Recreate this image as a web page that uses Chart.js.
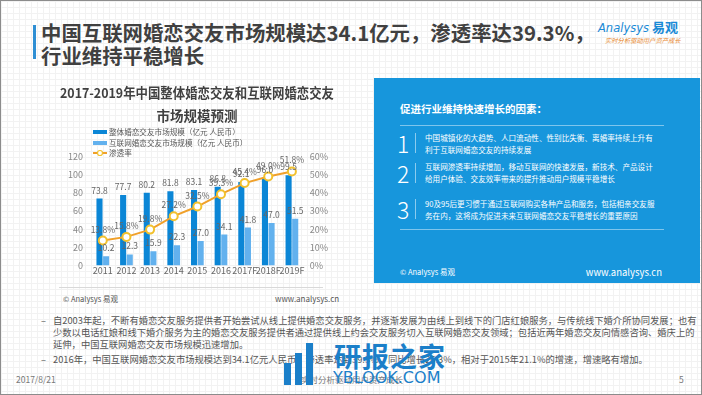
<!DOCTYPE html>
<html>
<head>
<meta charset="utf-8">
<script src="https://cdn.jsdelivr.net/npm/chart.js@4"></script>
<style>
body { margin: 0; width: 702px; height: 395px; overflow: hidden; font-family: "Noto Sans CJK SC", "Noto Sans", sans-serif; }
#slide {
    position: relative; width: 700px; height: 393px; border: 1px solid #8c8c8c;
    background-color: #fff;
    background-image: linear-gradient(#f2f2f2 1px, transparent 1px), linear-gradient(90deg, #f2f2f2 1px, transparent 1px);
    background-size: 6px 6px;
}
.abs { position: absolute; white-space: nowrap; }
#title-bar { left: 32px; top: 24px; width: 3px; height: 34px; background: #2f8fd4; }
#title { left: 40px; top: 20px; font-size: 20.4px; font-weight: bold; color: #404040; line-height: 23px; }
#logo { left: 597px; top: 16px; color: #1a8ad6; font-size: 13px; }
#logo i { font-family: "DejaVu Sans", sans-serif; font-size: 11.5px; }
#logo b { margin-left: 3px; }
#slogan { left: 604px; top: 35px; color: #e8862a; font-size: 6.3px; font-style: italic; }
#chart-box { position: absolute; left: 40px; top: 78px; width: 315px; height: 200px; }
#src-line { left: 58px; top: 286px; width: 264px; height: 1px; background: #d9d9d9; }
.src { font-size: 7.5px; color: #555; }
#panel { left: 373px; top: 77px; width: 326px; height: 205px; background: #1796dc; color: #fff; }
#panel .head { left: 26px; top: 23px; font-size: 10.5px; font-weight: bold; }
#panel .sep { left: 26px; width: 264px; height: 1px; background: rgba(255,255,255,0.45); }
#panel .num { left: 23px; font-size: 23px; font-weight: 300; line-height: 26px; }
#panel .vl { left: 41px; width: 1px; height: 20px; background: rgba(255,255,255,0.5); }
#panel .txt { left: 51px; font-size: 7.6px; line-height: 11.5px; }
#notes { left: 40px; top: 313px; font-size: 9.3px; color: #555; line-height: 12px; }
#notes .d { display: inline-block; width: 12px; }
#notes .ind { display: inline-block; width: 12px; }
.foot { font-size: 8.5px; color: #777; top: 372px; }
#wm1 { left: 333px; top: 335px; font-size: 27px; font-weight: bold; color: #1b7fc9; letter-spacing: 1px; }
#wm2 { left: 332px; top: 367px; font-size: 16px; color: #1b7fc9; font-family: "DejaVu Sans", sans-serif; }
.wb { position: absolute; background: #1b7fc9; }
</style>
</head>
<body>
<div id="slide">
    <div class="abs" id="title-bar"></div>
    <div class="abs" id="title">中国互联网婚恋交友市场规模达34.1亿元，渗透率达39.3%，<br>行业维持平稳增长</div>
    <div class="abs" id="logo"><i>Analysys</i><b>易观</b></div>
    <div class="abs" id="slogan">实时分析驱动用户资产成长</div>

    <div id="chart-box"><canvas id="market-chart"></canvas></div>
    <div class="abs" id="src-line"></div>
    <div class="abs src" style="left:62px; top:292px;">© Analysys 易观</div>
    <div class="abs src" style="left:274px; top:292px; font-size:8px;">www.analysys.cn</div>

    <div class="abs" id="panel">
        <div class="abs head">促进行业维持快速增长的因素：</div>
        <div class="abs sep" style="top:47px;"></div>
        <div class="abs num" style="top:52px;">1</div>
        <div class="abs vl" style="top:55px;"></div>
        <div class="abs txt" style="top:54px;">中国城镇化的大趋势、人口流动性、性别比失衡、离婚率持续上升有<br>利于互联网婚恋交友的持续发展</div>
        <div class="abs num" style="top:82px;">2</div>
        <div class="abs vl" style="top:85px;"></div>
        <div class="abs txt" style="top:83px;">互联网渗透率持续增加，移动互联网的快速发展，新技术、产品设计<br>给用户体验、交友效率带来的提升推动用户规模平稳增长</div>
        <div class="abs num" style="top:118px;">3</div>
        <div class="abs vl" style="top:121px;"></div>
        <div class="abs txt" style="top:120px;">90及95后更习惯于通过互联网购买各种产品和服务，包括相亲交友服<br>务在内，这将成为促进未来互联网婚恋交友平稳增长的重要原因</div>
        <div class="abs sep" style="top:151px;"></div>
        <div class="abs" style="left:26px; top:188px; font-size:7.5px;">© Analysys 易观</div>
        <div class="abs" style="right:38px; top:187px; font-size:9.5px;">www.analysys.cn</div>
    </div>

    <div class="abs" id="notes">
        <span class="d">–</span>自2003年起，不断有婚恋交友服务提供者开始尝试从线上提供婚恋交友服务，并逐渐发展为由线上到线下的门店红娘服务，与传统线下婚介所协同发展；也有<br>
        <span class="ind"></span>少数以电话红娘和线下婚介服务为主的婚恋交友服务提供者通过提供线上约会交友服务切入互联网婚恋交友领域；包括近两年婚恋交友向情感咨询、婚庆上的<br>
        <span class="ind"></span>延伸，中国互联网婚恋交友市场规模迅速增加。<br>
        <div style="height:3px;"></div>
        <span class="d">–</span>2016年，中国互联网婚恋交友市场规模达到34.1亿元人民币，渗透率达到39.3%，同比增长26.3%，相对于2015年21.1%的增速，增速略有增加。
    </div>

    <div class="abs foot" style="left:15px;">2017/8/21</div>
    <div class="abs foot" style="left:300px;">实时分析驱动用户资产成长</div>
    <div class="abs foot" style="left:678px;">5</div>

    <div class="wb" style="left:283px; top:362px; width:7px; height:22px;"></div>
    <div class="wb" style="left:294px; top:352px; width:7px; height:32px;"></div>
    <div class="wb" style="left:305px; top:342px; width:7px; height:42px;"></div>
    <div class="abs" id="wm1">研报之家</div>
    <div class="abs" id="wm2">YBLOOK.COM</div>
</div>

<script>
// 数据
const years = ['2011', '2012', '2013', '2014', '2015', '2016', '2017F', '2018F', '2019F'];
const totalMarket = [73.8, 77.7, 80.2, 81.8, 83.1, 86.8, 92.1, 96.0, 99.5];     // 整体婚恋交友市场规模
const onlineMarket = [10.2, 12.3, 15.9, 22.3, 27.0, 34.1, 41.8, 47.0, 51.5];    // 互联网婚恋交友市场规模
const penetration = [13.8, 15.8, 19.8, 27.2, 32.5, 39.3, 45.4, 49.0, 51.8];     // 渗透率 %
const leftTicks = [0, 20, 40, 60, 80, 100, 120];
const rightTicks = [0, 10, 20, 30, 40, 50, 60];

const fontFamily = '"Noto Sans CJK SC", "Noto Sans", sans-serif';
const colorTotal = '#0b86d6';
const colorOnline = '#62b1ee';
const colorLine = '#f0a02a';

/**
 * 在柱子和点上方写数值。
 */
const valueLabels = {
    id: 'valueLabels',
    afterDatasetsDraw(chart) {
        const ctx = chart.ctx;
        ctx.save();
        ctx.font = `8.5px ${fontFamily}`;
        ctx.fillStyle = '#666';
        ctx.textAlign = 'center';
        ctx.textBaseline = 'bottom';
        chart.data.datasets.forEach((ds, i) => {
            const meta = chart.getDatasetMeta(i);
            meta.data.forEach((el, j) => {
                const isLine = ds.type === 'line';
                const text = isLine ? ds.data[j].toFixed(1) + '%' : ds.data[j].toFixed(1);
                ctx.fillText(text, el.x, el.y - (isLine ? 7 : 4));
            });
        });
        ctx.restore();
    }
};

/**
 * 竖排图例（Chart.js 自带图例只会横排）。
 */
const stackedLegend = {
    id: 'stackedLegend',
    afterDraw(chart) {
        const ctx = chart.ctx;
        const x = 52;
        const ys = [53, 64, 74];
        ctx.save();
        ctx.font = `7.6px ${fontFamily}`;
        ctx.fillStyle = '#595959';
        ctx.textBaseline = 'middle';
        chart.data.datasets.forEach((ds, i) => {
            const y = ys[i];
            if (ds.type === 'line') {
                ctx.strokeStyle = colorLine;
                ctx.lineWidth = 2;
                ctx.beginPath();
                ctx.moveTo(x, y);
                ctx.lineTo(x + 14, y);
                ctx.stroke();
                ctx.beginPath();
                ctx.arc(x + 7, y, 2.5, 0, Math.PI * 2);
                ctx.fillStyle = '#fff';
                ctx.fill();
                ctx.strokeStyle = '#f2c12e';
                ctx.lineWidth = 1.2;
                ctx.stroke();
            } else {
                ctx.fillStyle = ds.backgroundColor;
                ctx.fillRect(x, y - 2, 14, 4);
            }
            ctx.fillStyle = '#595959';
            ctx.fillText(ds.label, x + 16, y);
        });
        ctx.restore();
    }
};

document.addEventListener('DOMContentLoaded', function() {
    const ctx = document.getElementById('market-chart').getContext('2d');

    new Chart(ctx, {
        data: {
            labels: years,
            datasets: [
                {
                    type: 'bar',
                    label: '整体婚恋交友市场规模（亿元 人民币）',
                    data: totalMarket,
                    backgroundColor: colorTotal,
                    yAxisID: 'y',
                    order: 1,
                    categoryPercentage: 0.56,
                    barPercentage: 0.92
                },
                {
                    type: 'bar',
                    label: '互联网婚恋交友市场规模（亿元 人民币）',
                    data: onlineMarket,
                    backgroundColor: colorOnline,
                    yAxisID: 'y',
                    order: 2,
                    categoryPercentage: 0.56,
                    barPercentage: 0.92
                },
                {
                    type: 'line',
                    label: '渗透率',
                    data: penetration,
                    borderColor: colorLine,
                    borderWidth: 2,
                    pointRadius: 4,
                    pointBorderWidth: 2,
                    pointBackgroundColor: '#fff',
                    pointBorderColor: '#f2c12e',
                    yAxisID: 'y1',
                    order: 0
                }
            ]
        },
        options: {
            responsive: true,
            maintainAspectRatio: false,
            animation: false,
            layout: {
                padding: { left: 19, right: 22, top: 0, bottom: 1 }
            },
            plugins: {
                legend: { display: false },
                tooltip: { enabled: false },
                title: {
                    display: true,
                    text: ['2017-2019年中国整体婚恋交友和互联网婚恋交友', '市场规模预测'],
                    color: '#404040',
                    font: { family: fontFamily, size: 13.5, weight: 'bold', lineHeight: 1.65 },
                    padding: { top: 3, bottom: 30 }
                }
            },
            scales: {
                x: {
                    grid: { display: false, drawTicks: false },
                    border: { display: false },
                    ticks: { color: '#666', font: { family: fontFamily, size: 9 }, padding: 0, maxRotation: 0, autoSkip: false }
                },
                y: {
                    position: 'left',
                    min: 0,
                    max: 120,
                    grid: { display: false, drawTicks: false },
                    border: { display: false },
                    afterBuildTicks: axis => { axis.ticks = leftTicks.map(v => ({ value: v })); },
                    ticks: { color: '#888', font: { family: fontFamily, size: 9 }, padding: 8 }
                },
                y1: {
                    position: 'right',
                    min: 0,
                    max: 60,
                    grid: { display: false, drawTicks: false },
                    border: { display: false },
                    afterBuildTicks: axis => { axis.ticks = rightTicks.map(v => ({ value: v })); },
                    ticks: { color: '#888', font: { family: fontFamily, size: 9 }, padding: 6, callback: v => v + '%' }
                }
            }
        },
        plugins: [valueLabels, stackedLegend]
    });
});
</script>
</body>
</html>
